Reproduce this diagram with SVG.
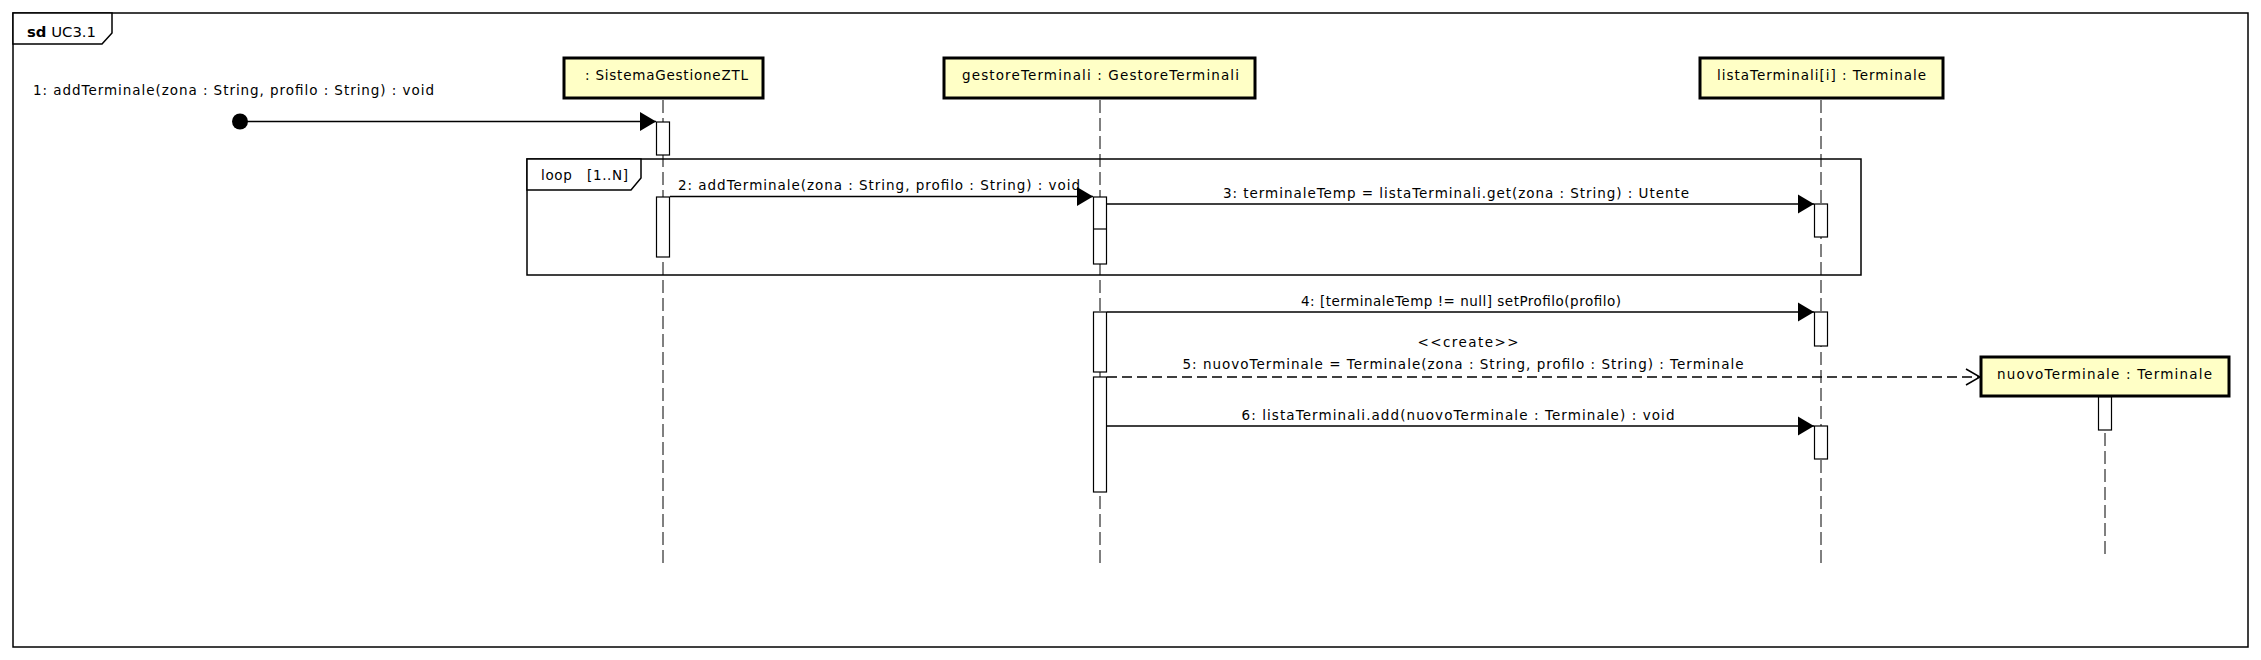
<svg xmlns="http://www.w3.org/2000/svg" width="2261" height="660" viewBox="0 0 2261 660">
<style>
text{font-family:"DejaVu Sans","Liberation Sans",sans-serif;font-size:13.5px;fill:#000}
.frame{fill:none;stroke:#000;stroke-width:1.5}
.tab{fill:#fff;stroke:#000;stroke-width:1.5}
.head{fill:#FFFFC6;stroke:#000;stroke-width:3}
.life{stroke:#000;stroke-width:1;stroke-dasharray:13 5;fill:none}
.act{fill:#fff;stroke:#000;stroke-width:1.2}
.msg{stroke:#000;stroke-width:1.5;fill:none}
.dash{stroke:#000;stroke-width:1.5;fill:none;stroke-dasharray:10 5}
</style>
<defs>
<marker id="filled" markerWidth="16" markerHeight="20" refX="16" refY="10" orient="auto" markerUnits="userSpaceOnUse">
<path d="M0,0.5 L16,10 L0,19.5 Z" fill="#000"/>
</marker>
<marker id="open" markerWidth="16" markerHeight="20" refX="15" refY="10" orient="auto" markerUnits="userSpaceOnUse">
<path d="M1,2 L15,10 L1,18" fill="none" stroke="#000" stroke-width="1.5"/>
</marker>
</defs>
<rect width="2261" height="660" fill="#fff"/>
<g id="frame">
<rect class="frame" x="13" y="13" width="2235" height="634"/>
<path class="tab" d="M13,13 H112 V33 L102,44 H13 Z"/>
<text x="27" y="37" font-size="15" textLength="69" lengthAdjust="spacingAndGlyphs"><tspan font-weight="bold">sd</tspan> UC3.1</text>
</g>
<g id="loop">
<rect class="frame" x="527" y="159" width="1334" height="116"/>
<path class="tab" d="M527,159 H641 V178 L631,190 H527 Z"/>
<text x="541" y="180" textLength="87" xml:space="preserve">loop   [1..N]</text>
</g>
<g id="lifeline-sistema">
<line class="life" x1="663" y1="100" x2="663" y2="563"/>
<rect class="head" x="564" y="58" width="199" height="40"/>
<text x="585" y="80" textLength="163">: SistemaGestioneZTL</text>
<rect class="act" x="656.5" y="122" width="13" height="33"/>
<rect class="act" x="656.5" y="197" width="13" height="60"/>
</g>
<g id="lifeline-gestore">
<line class="life" x1="1100" y1="100" x2="1100" y2="563"/>
<rect class="head" x="944" y="58" width="311" height="40"/>
<text x="962" y="80" textLength="277">gestoreTerminali : GestoreTerminali</text>
<rect class="act" x="1093.5" y="197" width="13" height="67"/>
<line x1="1093.5" y1="229" x2="1106.5" y2="229" stroke="#000" stroke-width="1.2"/>
<rect class="act" x="1093.5" y="312" width="13" height="60"/>
<rect class="act" x="1093.5" y="377" width="13" height="115"/>
</g>
<g id="lifeline-lista">
<line class="life" x1="1821" y1="100" x2="1821" y2="563"/>
<rect class="head" x="1700" y="58" width="243" height="40"/>
<text x="1717" y="80" textLength="209">listaTerminali[i] : Terminale</text>
<rect class="act" x="1814.5" y="204" width="13" height="33"/>
<rect class="act" x="1814.5" y="312" width="13" height="34"/>
<rect class="act" x="1814.5" y="426" width="13" height="33"/>
</g>
<g id="lifeline-nuovo">
<line class="life" x1="2105" y1="397" x2="2105" y2="557"/>
<rect class="head" x="1981" y="357" width="248" height="39"/>
<text x="1997" y="379" textLength="215">nuovoTerminale : Terminale</text>
<rect class="act" x="2098.5" y="397" width="13" height="33"/>
</g>
<g id="connectors">
<circle cx="240" cy="121.5" r="8" fill="#000"/>
<line class="msg" x1="240" y1="121.5" x2="656" y2="121.5" marker-end="url(#filled)"/>
<text x="33" y="95" textLength="401">1: addTerminale(zona : String, profilo : String) : void</text>
<line class="msg" x1="670" y1="196.5" x2="1093" y2="196.5" marker-end="url(#filled)"/>
<text x="678" y="190" textLength="402">2: addTerminale(zona : String, profilo : String) : void</text>
<line class="msg" x1="1107" y1="204" x2="1814" y2="204" marker-end="url(#filled)"/>
<text x="1223" y="198" textLength="466">3: terminaleTemp = listaTerminali.get(zona : String) : Utente</text>
<line class="msg" x1="1107" y1="312" x2="1814" y2="312" marker-end="url(#filled)"/>
<text x="1461" y="306" text-anchor="middle" textLength="320">4: [terminaleTemp != null] setProfilo(profilo)</text>
<text x="1468" y="347" text-anchor="middle" textLength="101">&lt;&lt;create&gt;&gt;</text>
<line class="dash" x1="1107" y1="377" x2="1980" y2="377" marker-end="url(#open)"/>
<text x="1463" y="369" text-anchor="middle" textLength="561">5: nuovoTerminale = Terminale(zona : String, profilo : String) : Terminale</text>
<line class="msg" x1="1107" y1="426" x2="1814" y2="426" marker-end="url(#filled)"/>
<text x="1458" y="420" text-anchor="middle" textLength="433">6: listaTerminali.add(nuovoTerminale : Terminale) : void</text>
</g>
</svg>
